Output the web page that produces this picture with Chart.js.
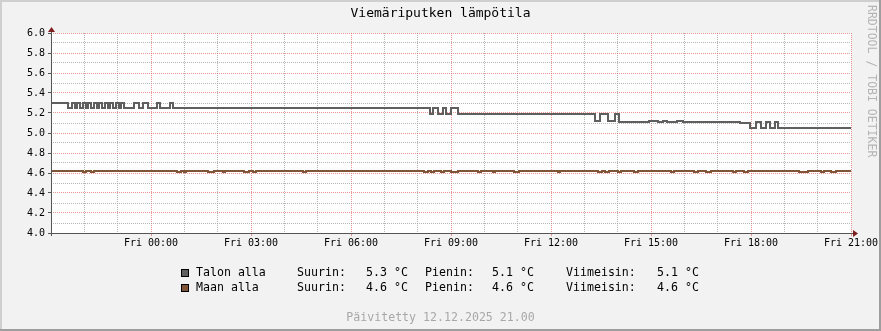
<!DOCTYPE html>
<html>
<head>
<meta charset="utf-8">
<title>Viemäriputken lämpötila</title>
<script src="https://cdn.jsdelivr.net/npm/chart.js@4.4.1/dist/chart.umd.min.js"></script>
<style>
  html, body { margin: 0; padding: 0; background: #f2f2f2; }
  canvas { display: block; }
</style>
</head>
<body>
<canvas id="chart" width="881" height="331"></canvas>
<script>
const chartTitle = 'Viemäriputken lämpötila';
const footerText = 'Päivitetty 12.12.2025 21.00';
const creditText = 'RRDTOOL / TOBI OETIKER';

// x = tunteja alkaen to 21:00 (24 = pe 21:00)
const xLabelHours = [3, 6, 9, 12, 15, 18, 21, 24];
const xLabels = ['Fri 00:00', 'Fri 03:00', 'Fri 06:00', 'Fri 09:00', 'Fri 12:00', 'Fri 15:00', 'Fri 18:00', 'Fri 21:00'];
const yLabelValues = [4.0, 4.2, 4.4, 4.6, 4.8, 5.0, 5.2, 5.4, 5.6, 5.8, 6.0];
const yLabels = ['4.0', '4.2', '4.4', '4.6', '4.8', '5.0', '5.2', '5.4', '5.6', '5.8', '6.0'];

// Talon alla (porrasviiva, arvo pysyy seuraavaan muutokseen asti)
const talonHours = [
  0, 0.51, 0.63, 0.72, 0.78, 0.87, 0.96, 1.05, 1.11, 1.20, 1.29, 1.38, 1.44, 1.53,
  1.62, 1.71, 1.77, 1.86, 1.95, 2.04, 2.10, 2.19, 2.49, 2.64, 2.76, 2.91, 3.18, 3.27,
  3.57, 3.66, 11.37, 11.46, 11.61, 11.76, 11.85, 12.00, 12.21, 16.32, 16.47, 16.71,
  16.92, 17.04, 17.94, 18.21, 18.36, 18.48, 18.78, 18.96, 20.67, 20.97, 21.15, 21.30,
  21.45, 21.57, 21.72, 21.81, 24
];
const talonTemps = [
  5.30, 5.25, 5.30, 5.25, 5.30, 5.25, 5.30, 5.25, 5.30, 5.25, 5.30, 5.25, 5.30, 5.25,
  5.30, 5.25, 5.30, 5.25, 5.30, 5.25, 5.30, 5.25, 5.30, 5.25, 5.30, 5.25, 5.30, 5.25,
  5.30, 5.25, 5.19, 5.25, 5.19, 5.25, 5.19, 5.25, 5.19, 5.12, 5.19, 5.12,
  5.19, 5.11, 5.12, 5.11, 5.12, 5.11, 5.12, 5.11, 5.10, 5.05, 5.11, 5.05,
  5.11, 5.05, 5.11, 5.05, 5.05
];

// Maan alla
const maanHours = [
  0,
  0.96, 1.05, 1.20, 1.29, 3.78, 3.90, 3.99, 4.05, 4.71, 4.89, 5.16, 5.22,
  5.79, 5.94, 6.06, 6.15, 7.56, 7.65, 11.19, 11.31, 11.40, 11.49, 11.70, 11.79,
  12.00, 12.21, 12.81, 12.90, 13.26, 13.32, 13.89, 14.04, 15.21, 15.27,
  16.41, 16.53, 16.62, 16.74, 17.01, 17.10, 17.49, 17.61, 18.60, 18.69,
  19.29, 19.41, 19.65, 19.80, 20.46, 20.55, 20.79, 20.91, 22.44, 22.71,
  23.10, 23.19, 23.40, 23.55,
  24
];
const maanTemps = [
  4.62,
  4.61, 4.62, 4.61, 4.62, 4.61, 4.62, 4.61, 4.62, 4.61, 4.62, 4.61, 4.62,
  4.61, 4.62, 4.61, 4.62, 4.61, 4.62, 4.61, 4.62, 4.61, 4.62, 4.61, 4.62,
  4.61, 4.62, 4.61, 4.62, 4.61, 4.62, 4.61, 4.62, 4.61, 4.62,
  4.61, 4.62, 4.61, 4.62, 4.61, 4.62, 4.61, 4.62, 4.61, 4.62,
  4.61, 4.62, 4.61, 4.62, 4.61, 4.62, 4.61, 4.62, 4.61, 4.62,
  4.61, 4.62, 4.61, 4.62,
  4.62
];

// legendan tiedot
const seriesNames = ['Talon alla', 'Maan alla'];
const seriesColors = ['#5f5f5f', '#7f5437'];
const maxValues = ['5.3 °C', '4.6 °C'];
const minValues = ['5.1 °C', '4.6 °C'];
const lastValues = ['5.1 °C', '4.6 °C'];

const MONO = '"DejaVu Sans Mono", "Liberation Mono", monospace';
const MINOR_GRID = 'rgba(150,150,150,0.7)';
const MAJOR_GRID = 'rgba(222,79,79,0.6)';
const hourTicks = Array.from({length: 25}, (_, i) => i);
const tenthTicks = Array.from({length: 21}, (_, i) => Math.round((4 + i * 0.1) * 10) / 10);

function toPoints(xs, ys) {
  return xs.map((x, i) => ({x: x, y: ys[i]}));
}

function xLabelFor(v) {
  const i = xLabelHours.indexOf(v);
  return i >= 0 ? xLabels[i] : '';
}

function yLabelFor(v) {
  const i = yLabelValues.findIndex(l => Math.abs(l - v) < 1e-6);
  return i >= 0 ? yLabels[i] : '';
}

const isMajorX = v => v % 3 === 0;
const isMajorY = v => Math.round(v * 10) % 2 === 0;

// tausta, kehys, otsikko, akselit, legenda
const rrdDecor = {
  id: 'rrdDecor',
  beforeDraw(chart) {
    const {ctx, chartArea: a, width, height} = chart;
    ctx.save();
    ctx.fillStyle = '#f2f2f2';
    ctx.fillRect(0, 0, width, height);
    ctx.fillStyle = '#cfcfcf';
    ctx.fillRect(0, 0, width, 2);
    ctx.fillRect(0, 0, 2, height);
    ctx.fillStyle = '#9e9e9e';
    ctx.fillRect(width - 2, 0, 2, height);
    ctx.fillRect(0, height - 2, width, 2);
    ctx.fillStyle = '#ffffff';
    ctx.fillRect(a.left, a.top, a.right - a.left, a.bottom - a.top);
    ctx.restore();
  },
  afterDatasetsDraw(chart) {
    const {ctx, chartArea: a, width} = chart;
    ctx.save();

    // akselit ja nuolet
    ctx.strokeStyle = '#555555';
    ctx.lineWidth = 1;
    ctx.beginPath();
    ctx.moveTo(a.left + 0.5, a.bottom + 3);
    ctx.lineTo(a.left + 0.5, a.top - 2);
    ctx.moveTo(a.left - 3, a.bottom + 0.5);
    ctx.lineTo(a.right + 3, a.bottom + 0.5);
    ctx.stroke();
    ctx.fillStyle = '#801f1f';
    ctx.beginPath();
    ctx.moveTo(a.left + 0.5, a.top - 6);
    ctx.lineTo(a.left - 3, a.top - 1);
    ctx.lineTo(a.left + 4, a.top - 1);
    ctx.closePath();
    ctx.fill();
    ctx.beginPath();
    ctx.moveTo(a.right + 7, a.bottom + 0.5);
    ctx.lineTo(a.right + 2, a.bottom - 3);
    ctx.lineTo(a.right + 2, a.bottom + 4);
    ctx.closePath();
    ctx.fill();

    // otsikko
    ctx.fillStyle = '#000000';
    ctx.font = '13px ' + MONO;
    ctx.textAlign = 'center';
    ctx.textBaseline = 'middle';
    ctx.fillText(chartTitle, width / 2, 14);

    // legenda
    ctx.font = '11.6px ' + MONO;
    ctx.textAlign = 'left';
    seriesNames.forEach((name, i) => {
      const y = 273 + i * 15;
      ctx.fillStyle = seriesColors[i];
      ctx.fillRect(181, y - 4, 8, 8);
      ctx.strokeStyle = '#000000';
      ctx.strokeRect(181.5, y - 3.5, 7, 7);
      ctx.fillStyle = '#000000';
      ctx.fillText(name, 196, y);
      ctx.fillText('Suurin:', 297, y);
      ctx.fillText(maxValues[i], 366, y);
      ctx.fillText('Pienin:', 425, y);
      ctx.fillText(minValues[i], 492, y);
      ctx.fillText('Viimeisin:', 566, y);
      ctx.fillText(lastValues[i], 657, y);
    });

    // alatunniste
    ctx.fillStyle = '#a8a8a8';
    ctx.textAlign = 'center';
    ctx.fillText(footerText, 440.5, 318);

    // pystyteksti oikealla
    ctx.fillStyle = '#b4b4b4';
    ctx.font = '11.5px ' + MONO;
    ctx.translate(871, 5);
    ctx.rotate(Math.PI / 2);
    ctx.textAlign = 'left';
    ctx.textBaseline = 'middle';
    ctx.fillText(creditText, 0, 0);
    ctx.restore();
  }
};

new Chart(document.getElementById('chart'), {
  type: 'line',
  data: {
    datasets: [
      {
        label: seriesNames[0],
        data: toPoints(talonHours, talonTemps),
        borderColor: seriesColors[0],
        borderWidth: 2,
        stepped: 'before',
        pointRadius: 0,
        fill: false
      },
      {
        label: seriesNames[1],
        data: toPoints(maanHours, maanTemps),
        borderColor: seriesColors[1],
        borderWidth: 2,
        stepped: 'before',
        pointRadius: 0,
        fill: false
      }
    ]
  },
  options: {
    responsive: false,
    animation: false,
    layout: { padding: { left: 0, right: 30, top: 33, bottom: 78 } },
    plugins: {
      legend: { display: false },
      tooltip: { enabled: false },
      title: { display: false }
    },
    scales: {
      x: {
        type: 'linear',
        min: 0,
        max: 24,
        afterBuildTicks: s => { s.ticks = hourTicks.map(v => ({value: v})); },
        afterFit: s => { s.height = 20; s.paddingLeft = 0; s.paddingRight = 0; },
        ticks: {
          autoSkip: false,
          maxRotation: 0,
          minRotation: 0,
          padding: 1,
          color: '#000000',
          font: { family: MONO, size: 10 },
          callback: v => xLabelFor(v)
        },
        grid: {
          color: c => isMajorX(c.tick.value) ? MAJOR_GRID : MINOR_GRID,
          tickColor: c => isMajorX(c.tick.value) ? MAJOR_GRID : 'rgba(0,0,0,0)',
          lineWidth: 1,
          drawTicks: true,
          tickLength: 3
        },
        border: { display: false, dash: [1, 1] }
      },
      y: {
        type: 'linear',
        min: 4,
        max: 6,
        afterBuildTicks: s => { s.ticks = tenthTicks.map(v => ({value: v})); },
        afterFit: s => { s.width = 51; s.paddingTop = 0; s.paddingBottom = 0; },
        ticks: {
          autoSkip: false,
          padding: 3,
          color: '#000000',
          font: { family: MONO, size: 10 },
          callback: v => yLabelFor(v)
        },
        grid: {
          color: c => isMajorY(c.tick.value) ? MAJOR_GRID : MINOR_GRID,
          tickColor: c => isMajorY(c.tick.value) ? '#555555' : 'rgba(0,0,0,0)',
          lineWidth: 1,
          drawTicks: true,
          tickLength: 3
        },
        border: { display: false, dash: [1, 1] }
      }
    }
  },
  plugins: [rrdDecor]
});
</script>
</body>
</html>
